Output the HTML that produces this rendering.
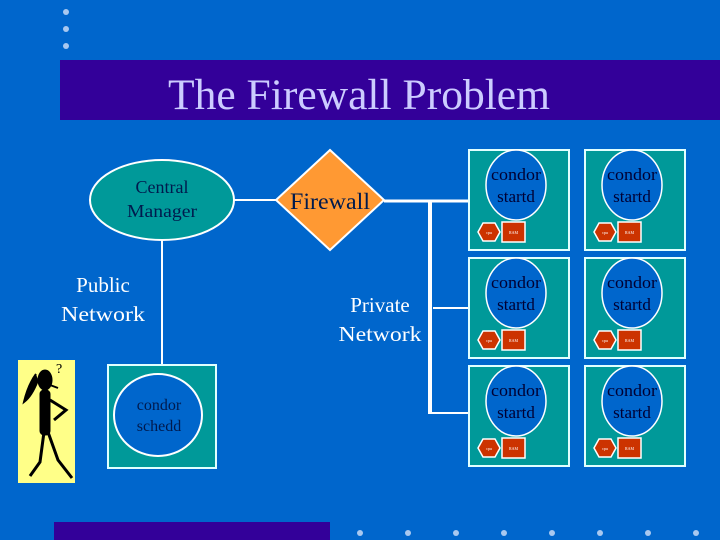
<!DOCTYPE html>
<html><head><style>
html,body{margin:0;padding:0;background:#0066cc;}
svg{display:block;}
text{font-family:"Liberation Serif",serif;}
</style></head><body>
<svg width="720" height="540" viewBox="0 0 720 540" xmlns="http://www.w3.org/2000/svg">
<rect width="720" height="540" fill="#0066cc"/>
<g fill="#a8c8f0">
<circle cx="66" cy="12" r="3"/><circle cx="66" cy="29" r="3"/><circle cx="66" cy="46" r="3"/>
<circle cx="360" cy="533" r="3"/><circle cx="408" cy="533" r="3"/><circle cx="456" cy="533" r="3"/><circle cx="504" cy="533" r="3"/>
<circle cx="552" cy="533" r="3"/><circle cx="600" cy="533" r="3"/><circle cx="648" cy="533" r="3"/><circle cx="696" cy="533" r="3"/>
</g>
<rect x="60" y="60" width="660" height="60" fill="#330099"/>
<text x="168" y="109" font-size="43" fill="#ccccff" textLength="382" lengthAdjust="spacingAndGlyphs">The Firewall Problem</text>
<rect x="54" y="522" width="276" height="18" fill="#330099"/>

<g stroke="#fff" fill="none">
<line x1="234" y1="200" x2="276" y2="200" stroke-width="2"/>
<line x1="384" y1="201" x2="468" y2="201" stroke-width="3"/>
<line x1="430" y1="200" x2="430" y2="414" stroke-width="4"/>
<line x1="433" y1="308" x2="468" y2="308" stroke-width="2"/>
<line x1="430" y1="413" x2="468" y2="413" stroke-width="2"/>
<line x1="162" y1="240" x2="162" y2="365" stroke-width="2"/>
</g>

<ellipse cx="162" cy="200" rx="72" ry="40" fill="#009999" stroke="#fff" stroke-width="2"/>
<text x="162" y="193" font-size="18" fill="#001a4d" text-anchor="middle">Central</text>
<text x="162" y="217" font-size="18" fill="#001a4d" text-anchor="middle" textLength="70" lengthAdjust="spacingAndGlyphs">Manager</text>

<polygon points="330,150 384,200 330,250 276,200" fill="#ff9933" stroke="#fff" stroke-width="2"/>
<text x="290" y="209" font-size="23" fill="#001a4d" textLength="80" lengthAdjust="spacingAndGlyphs">Firewall</text>

<text x="103" y="292" font-size="21" fill="#fff" text-anchor="middle">Public</text>
<text x="103" y="321" font-size="21" fill="#fff" text-anchor="middle" textLength="84" lengthAdjust="spacingAndGlyphs">Network</text>
<text x="380" y="312" font-size="21" fill="#fff" text-anchor="middle">Private</text>
<text x="380" y="341" font-size="21" fill="#fff" text-anchor="middle" textLength="83" lengthAdjust="spacingAndGlyphs">Network</text>

<rect x="108" y="365" width="108" height="103" fill="#009999" stroke="#e0ffff" stroke-width="2"/>
<ellipse cx="158" cy="415" rx="44" ry="41" fill="#0066cc" stroke="#fff" stroke-width="2"/>
<text x="159" y="410" font-size="16" fill="#001a4d" text-anchor="middle">condor</text>
<text x="159" y="431" font-size="16" fill="#001a4d" text-anchor="middle">schedd</text>

<rect x="18" y="360" width="57" height="123" fill="#ffff88"/>
<g fill="#000" stroke="#000">
<ellipse cx="45" cy="380" rx="7" ry="10"/>
<line x1="50" y1="385" x2="58" y2="388" stroke-width="2"/>
<path d="M36,374 Q28,385 24,402 Q32,396 38,380" stroke-width="2"/>
<rect x="40" y="390" width="10" height="45" rx="4"/>
<path d="M50,400 L66,410 L54,420" stroke-width="3" fill="none"/>
<path d="M44,432 L40,462 L30,476 M48,432 L58,460 L72,478" stroke-width="3" fill="none"/>
</g>
<text x="56" y="373" font-size="14" fill="#000">?</text>

<defs>
<g id="node">
<rect x="0" y="0" width="100" height="100" fill="#009999" stroke="#e0ffff" stroke-width="2"/>
<ellipse cx="47" cy="35" rx="30" ry="35" fill="#0066cc" stroke="#fff" stroke-width="1.5"/>
<text x="47" y="30" font-size="17" fill="#000033" text-anchor="middle" textLength="50" lengthAdjust="spacingAndGlyphs">condor</text>
<text x="47" y="52" font-size="17" fill="#000033" text-anchor="middle">startd</text>
<polygon points="14,73 26,73 31,82 26,91 14,91 9,82" fill="#cc3300" stroke="#fff" stroke-width="1.5"/>
<text x="20" y="84" font-size="4" fill="#fff" text-anchor="middle">cpu</text>
<rect x="33" y="72" width="23" height="20" fill="#cc3300" stroke="#fff" stroke-width="1.5"/>
<text x="44.5" y="84" font-size="4" fill="#fff" text-anchor="middle">RAM</text>
</g>
</defs>
<use href="#node" x="469" y="150"/>
<use href="#node" x="585" y="150"/>
<use href="#node" x="469" y="258"/>
<use href="#node" x="585" y="258"/>
<use href="#node" x="469" y="366"/>
<use href="#node" x="585" y="366"/>
</svg>
</body></html>
